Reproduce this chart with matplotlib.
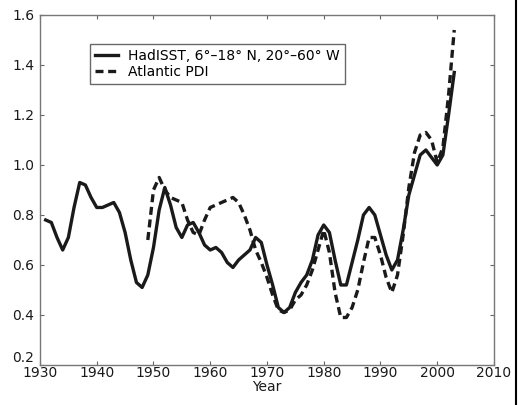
import numpy as np
import matplotlib
matplotlib.use("Agg")
import matplotlib.pyplot as plt
from matplotlib.lines import Line2D

plt.rcParams['font.family'] = ['DejaVu Sans']

# HadISST, 6-18N, 20-60W (scaled), annual
sst_years = list(range(1931, 2004))
sst_vals = [0.78, 0.77, 0.71, 0.66, 0.71, 0.83, 0.93, 0.92, 0.87, 0.83,
            0.83, 0.84, 0.85, 0.81, 0.73, 0.62, 0.53, 0.51, 0.56, 0.67,
            0.82, 0.91, 0.84, 0.75, 0.71, 0.76, 0.77, 0.73, 0.68, 0.66,
            0.67, 0.65, 0.61, 0.59, 0.62, 0.64, 0.66, 0.71, 0.69, 0.60,
            0.52, 0.43, 0.41, 0.43, 0.49, 0.53, 0.56, 0.62, 0.72, 0.76,
            0.73, 0.62, 0.52, 0.52, 0.61, 0.70, 0.80, 0.83, 0.80, 0.72,
            0.64, 0.58, 0.62, 0.74, 0.88, 0.96, 1.04, 1.06, 1.03, 1.00,
            1.04, 1.20, 1.37]

# Atlantic PDI (scaled)
pdi_years = list(range(1949, 2004))
pdi_vals = [0.70, 0.90, 0.95, 0.90, 0.87, 0.86, 0.85, 0.78, 0.73, 0.72,
            0.78, 0.83, 0.84, 0.85, 0.86, 0.87, 0.85, 0.80, 0.74, 0.66,
            0.61, 0.55, 0.48, 0.42, 0.41, 0.42, 0.46, 0.48, 0.52, 0.58,
            0.66, 0.74, 0.65, 0.49, 0.39, 0.39, 0.43, 0.50, 0.61, 0.71,
            0.71, 0.64, 0.55, 0.49, 0.56, 0.72, 0.91, 1.05, 1.12, 1.13,
            1.10, 1.01, 1.07, 1.28, 1.54]

xticks = [1930, 1940, 1950, 1960, 1970, 1980, 1990, 2000, 2010]
yticks = [0.2, 0.4, 0.6, 0.8, 1.0, 1.2, 1.4, 1.6]

fig = plt.figure(figsize=(5.22, 4.05), dpi=100)
ax = fig.add_axes([0.0766, 0.0988, 0.8697, 0.8642])

ax.plot(sst_years, sst_vals, color='#1a1a1a', lw=2.4, solid_joinstyle='round',
        label='HadISST, 6\u00b0\u201318\u00b0 N, 20\u00b0\u201360\u00b0 W')
ax.plot(pdi_years, pdi_vals, color='#1a1a1a', lw=2.4, dashes=(2.4, 1.4),
        label='Atlantic PDI')

ax.set_xlim(1930, 2010)
ax.set_ylim(0.2, 1.6)
ax.set_xticks(xticks)
ax.set_yticks(yticks)
ax.set_yticklabels(['%.1f' % v for v in yticks])
ax.tick_params(direction='in', length=3, width=0.8, color='#666666',
               top=True, right=True, labelsize=10, labelcolor='#1a1a1a', pad=1)
ax.tick_params(axis='y', pad=4)
# lift the lowest y label a little so it clears the 1930 label
ax.get_yticklabels()[0].set_verticalalignment('bottom')
for s in ax.spines.values():
    s.set_color('#777777')
    s.set_linewidth(1.0)
ax.set_xlabel('Year', fontsize=10, labelpad=0, color='#1a1a1a')

leg = ax.legend(loc='upper left', bbox_to_anchor=(0.110, 0.917), fontsize=10,
                frameon=True, fancybox=False, borderpad=0.35, labelspacing=0.15,
                handlelength=1.7, handletextpad=0.7, borderaxespad=0)
leg.get_frame().set_edgecolor('#444444')
leg.get_frame().set_linewidth(1.0)

# dark border line at the right edge of the scanned figure
fig.add_artist(Line2D([0.989, 0.989], [0.0, 1.0], transform=fig.transFigure,
                      color='black', lw=1.5))

fig.savefig('out.png', dpi=100)
plt.close(fig)
